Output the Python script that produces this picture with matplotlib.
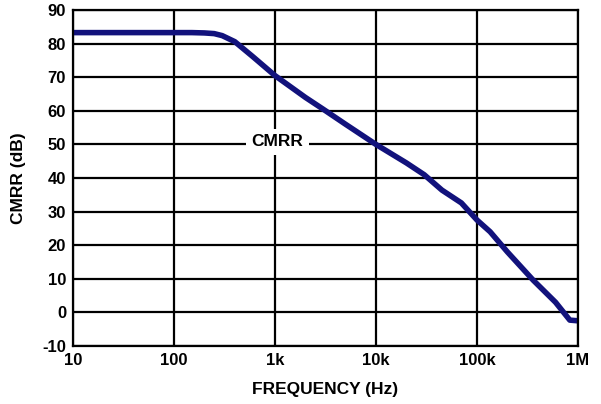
import matplotlib
matplotlib.use("Agg")
import matplotlib.pyplot as plt

plt.rcParams['font.family'] = ['Liberation Sans', 'DejaVu Sans']
plt.rcParams['font.weight'] = 'bold'
plt.rcParams['axes.unicode_minus'] = False

# CMRR vs frequency
freq = [10, 50, 150, 200, 250, 300, 400, 600, 1000, 2000, 3000, 5000, 10000,
        20000, 30000, 45000, 70000, 100000, 135000, 200000, 360000, 600000,
        830000, 1000000]
cmrr = [83.3, 83.3, 83.3, 83.2, 83.0, 82.4, 80.6, 76.2, 70.5, 64.0, 60.5, 56.0, 50.0,
        44.5, 41.0, 36.4, 32.6, 27.5, 24.0, 18.0, 9.6, 3.0,
        -2.3, -2.5]

xticks = [10, 100, 1000, 10000, 100000, 1000000]
xlabels = ['10', '100', '1k', '10k', '100k', '1M']
yticks = list(range(-10, 91, 10))

fig = plt.figure(figsize=(6.01, 4.04), dpi=100)
ax = fig.add_axes([0.1215, 0.1436, 0.8402, 0.8314])

ax.plot(freq, cmrr, color='#12127c', lw=4, solid_capstyle='butt')
ax.set_xscale('log')
ax.set_xlim(10, 1e6)
ax.set_ylim(-10, 90)
ax.set_xticks(xticks)
ax.set_xticklabels(xlabels)
ax.minorticks_off()
ax.set_yticks(yticks)
ax.grid(True, color='black', lw=1.6)
ax.set_axisbelow(True)
for s in ax.spines.values():
    s.set_linewidth(1.6)
ax.tick_params(length=0, labelsize=12, pad=5)
for lab in ax.get_xticklabels() + ax.get_yticklabels():
    lab.set_fontweight('bold')

ax.set_xlabel('FREQUENCY (Hz)', fontsize=12.5, fontweight='bold', labelpad=10)
ax.set_ylabel('CMRR (dB)', fontsize=12.5, fontweight='bold', labelpad=12)

ax.text(1050, 49.5, 'CMRR', fontsize=12.5, fontweight='bold', ha='center', va='baseline',
        bbox=dict(facecolor='white', edgecolor='none', pad=4))

fig.savefig('out.png', dpi=100)
